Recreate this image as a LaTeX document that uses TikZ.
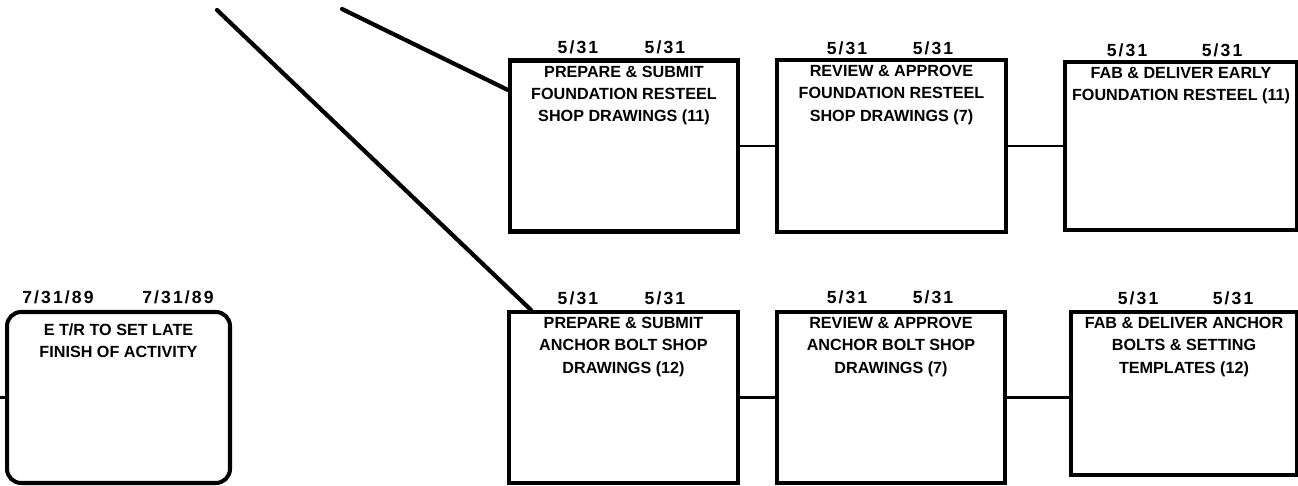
\documentclass[tikz,border=0pt]{standalone}
\usepackage{fontspec}
\setmainfont{Liberation Sans}
\newfontfamily\datefont[LetterSpace=12]{Liberation Sans Bold}
\usetikzlibrary{positioning}

\tikzset{
  taskbox/.style={draw, rectangle, line width=2.3pt, inner sep=0pt},
  tasktext/.style={font=\bfseries\fontsize{9.2}{12.7}\selectfont, align=center, anchor=north, inner sep=1pt},
  datum/.style={font=\datefont\fontsize{10}{11}\selectfont, inner sep=0pt},
  link/.style={line width=1.4pt},
  lead/.style={line width=2.4pt, line cap=round},
}

\begin{document}
\begin{tikzpicture}[x=0.02cm, y=-0.02cm]
\useasboundingbox (0,0) rectangle (1298,486);

% Top row - foundation resteel
\node[taskbox, minimum width=4.56cm, minimum height=3.42cm] (fndsub) at (624,146) {};
\node[tasktext, yshift=-3pt] (fndsub-txt) at (fndsub.north) {PREPARE \& SUBMIT\\FOUNDATION RESTEEL\\SHOP DRAWINGS (11)};
\node[datum] (fndsub-es) at (578,47.5) {5/31};
\node[datum] (fndsub-ef) at (665,47.5) {5/31};

\node[taskbox, minimum width=4.58cm, minimum height=3.44cm] (fndrev) at (891.5,146) {};
\node[tasktext, yshift=-3pt] (fndrev-txt) at (fndrev.north) {REVIEW \& APPROVE\\FOUNDATION RESTEEL\\SHOP DRAWINGS (7)};
\node[datum] (fndrev-es) at (847,48) {5/31};
\node[datum] (fndrev-ef) at (933,48) {5/31};

\node[taskbox, minimum width=4.64cm, minimum height=3.36cm] (fndfab) at (1181,146) {};
\node[tasktext, yshift=-3pt] (fndfab-txt) at (fndfab.north) {FAB \& DELIVER EARLY\\FOUNDATION RESTEEL (11)};
\node[datum] (fndfab-es) at (1127,50) {5/31};
\node[datum] (fndfab-ef) at (1222,50) {5/31};

% Bottom row - anchor bolts
\node[taskbox, minimum width=4.58cm, minimum height=3.42cm] (ancsub) at (623.5,397.5) {};
\node[tasktext, yshift=-3pt] (ancsub-txt) at (ancsub.north) {PREPARE \& SUBMIT\\ANCHOR BOLT SHOP\\DRAWINGS (12)};
\node[datum] (ancsub-es) at (578,298) {5/31};
\node[datum] (ancsub-ef) at (665,298) {5/31};

\node[taskbox, minimum width=4.56cm, minimum height=3.42cm] (ancrev) at (891,397.5) {};
\node[tasktext, yshift=-3pt] (ancrev-txt) at (ancrev.north) {REVIEW \& APPROVE\\ANCHOR BOLT SHOP\\DRAWINGS (7)};
\node[datum] (ancrev-es) at (847,297) {5/31};
\node[datum] (ancrev-ef) at (933,297) {5/31};

\node[taskbox, minimum width=4.52cm, minimum height=3.26cm] (ancfab) at (1184,393.5) {};
\node[tasktext, yshift=-3pt] (ancfab-txt) at (ancfab.north) {FAB \& DELIVER ANCHOR\\BOLTS \& SETTING\\TEMPLATES (12)};
\node[datum] (ancfab-es) at (1138,298) {5/31};
\node[datum] (ancfab-ef) at (1233,298) {5/31};

% Late finish activity
\node[taskbox, rounded corners=8pt, minimum width=4.46cm, minimum height=3.42cm] (etr) at (118.5,397.5) {};
\node[tasktext, yshift=-6.5pt] (etr-txt) at (etr.north) {E T/R TO SET LATE\\FINISH OF ACTIVITY};
\node[datum] (etr-es) at (58,297.5) {7/31/89};
\node[datum] (etr-ef) at (178,297.5) {7/31/89};

% Links
\draw[link] (fndsub.east) -- (fndrev.west);
\draw[link] (fndrev.east) -- (fndfab.west);
\draw[link] (ancsub.east) -- (ancrev.west);
\draw[link] (ancrev.east) -- (ancrev.east -| ancfab.west);
\coordinate (etr-in) at (0,397.5);
\draw[link] (etr-in) -- (etr.west);

% Leads coming in from above
\coordinate (lead-a) at (217,10);
\coordinate (lead-b) at (342,9);
\draw[lead] (lead-a) -- ([xshift=0.48cm]ancsub.north west);
\draw[lead] (lead-b) -- ([yshift=1.12cm]fndsub.west);
\end{tikzpicture}
\end{document}
